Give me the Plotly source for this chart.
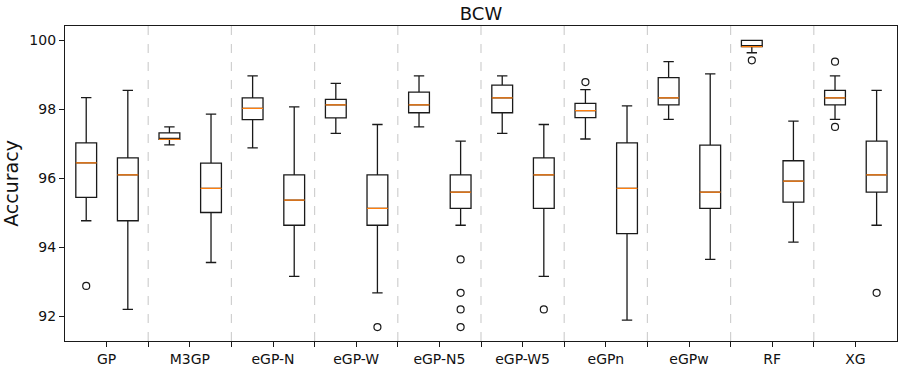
import plotly.graph_objects as go

categories = ["GP", "M3GP", "eGP-N", "eGP-W", "eGP-N5", "eGP-W5", "eGPn", "eGPw", "RF", "XG"]

# Train boxes (left box of each pair)
train_lo  = [94.77, 96.97, 96.88, 97.30, 97.49, 97.30, 97.14, 97.71, 99.64, 97.71]
train_q1  = [95.45, 97.13, 97.70, 97.75, 97.90, 97.90, 97.76, 98.13, 99.82, 98.13]
train_med = [96.45, 97.13, 98.03, 98.13, 98.13, 98.33, 97.96, 98.33, 99.82, 98.33]
train_q3  = [97.03, 97.32, 98.33, 98.29, 98.50, 98.70, 98.17, 98.92, 100.0, 98.55]
train_hi  = [98.34, 97.49, 98.97, 98.75, 98.97, 98.97, 98.57, 99.38, 100.0, 98.97]

# Test boxes (right box of each pair)
test_lo  = [92.20, 93.56, 93.16, 92.68, 94.64, 93.16, 91.89, 93.65, 94.15, 94.64]
test_q1  = [94.77, 95.01, 94.64, 94.64, 95.13, 95.13, 94.40, 95.13, 95.31, 95.60]
test_med = [96.10, 95.71, 95.37, 95.13, 95.60, 96.10, 95.71, 95.60, 95.92, 96.10]
test_q3  = [96.59, 96.44, 96.10, 96.10, 96.10, 96.59, 97.03, 96.96, 96.51, 97.08]
test_hi  = [98.55, 97.86, 98.07, 97.56, 97.08, 97.56, 98.10, 99.03, 97.66, 98.55]

# Outliers: (category index, value)
train_out_idx = [0, 6, 8, 9, 9]
train_out_val = [92.88, 98.79, 99.42, 99.38, 97.49]
test_out_idx = [3, 4, 4, 4, 4, 5, 9]
test_out_val = [91.69, 93.65, 92.68, 92.20, 91.69, 92.20, 92.68]

y_ticks = [92, 94, 96, 98, 100]

BOX_W = 0.25
LEFT_OFF, RIGHT_OFF = 0.255, 0.755
EDGE = "#1a1a1a"
MED = "#ff7f0e"

n = len(categories)
train_x = [i + LEFT_OFF for i in range(n)]
test_x = [i + RIGHT_OFF for i in range(n)]

fig = go.Figure()

def add_boxes(xs, lo, q1, med, q3, hi):
    fig.add_trace(go.Box(
        x=xs, q1=q1, median=med, q3=q3, lowerfence=lo, upperfence=hi,
        width=BOX_W, whiskerwidth=0.5, boxpoints=False,
        line=dict(color=EDGE, width=1.3), fillcolor="rgba(0,0,0,0)",
        showlegend=False, hoverinfo="skip"))
    # orange median overlay
    fig.add_trace(go.Box(
        x=xs, q1=med, median=med, q3=med, lowerfence=med, upperfence=med,
        width=BOX_W, whiskerwidth=0.5, boxpoints=False,
        line=dict(color=MED, width=1.3), fillcolor="rgba(0,0,0,0)",
        showlegend=False, hoverinfo="skip"))

add_boxes(train_x, train_lo, train_q1, train_med, train_q3, train_hi)
add_boxes(test_x, test_lo, test_q1, test_med, test_q3, test_hi)

fig.add_trace(go.Scatter(
    x=[i + LEFT_OFF for i in train_out_idx], y=train_out_val, mode="markers",
    marker=dict(symbol="circle-open", size=7, color=EDGE, line=dict(width=1.2, color=EDGE)),
    showlegend=False, hoverinfo="skip"))
fig.add_trace(go.Scatter(
    x=[i + RIGHT_OFF for i in test_out_idx], y=test_out_val, mode="markers",
    marker=dict(symbol="circle-open", size=7, color=EDGE, line=dict(width=1.2, color=EDGE)),
    showlegend=False, hoverinfo="skip"))

shapes = []
for i in range(1, n):
    shapes.append(dict(type="line", xref="x", yref="paper", x0=i, x1=i, y0=0, y1=1,
                       line=dict(color="#d0d0d0", width=1.2, dash="dash"), layer="below"))

fig.update_layout(
    width=901, height=370,
    margin=dict(l=65, r=3, t=26, b=22),
    paper_bgcolor="white", plot_bgcolor="white",
    font=dict(family="DejaVu Sans", color="#111", size=14),
    title=dict(text="BCW", x=0.5, xref="paper", xanchor="center",
               y=1 - 13.5 / 370, yref="container", yanchor="middle",
               font=dict(size=18, color="#111")),
    shapes=shapes,
    showlegend=False,
    boxmode="overlay",
)
fig.update_xaxes(
    range=[0, n], tickmode="array", tickvals=[i + 0.5 for i in range(n)], ticktext=categories,
    ticks="outside", ticklen=5, tickwidth=1, tickcolor=EDGE,
    minor=dict(tickmode="array", tickvals=list(range(1, n)), ticks="outside", ticklen=5, tickcolor=EDGE, tickwidth=1),
    showline=True, linecolor=EDGE, linewidth=1.2, mirror=True, showgrid=False, zeroline=False,
    tickfont=dict(size=14))
fig.update_yaxes(
    range=[91.285, 100.415], tickmode="array", tickvals=y_ticks,
    ticks="outside", ticklen=5, tickwidth=1, tickcolor=EDGE,
    showline=True, linecolor=EDGE, linewidth=1.2, mirror=True, showgrid=False, zeroline=False,
    tickfont=dict(size=14),
    title=dict(text="Accuracy", font=dict(size=19), standoff=10))

fig.write_html("out.html")
